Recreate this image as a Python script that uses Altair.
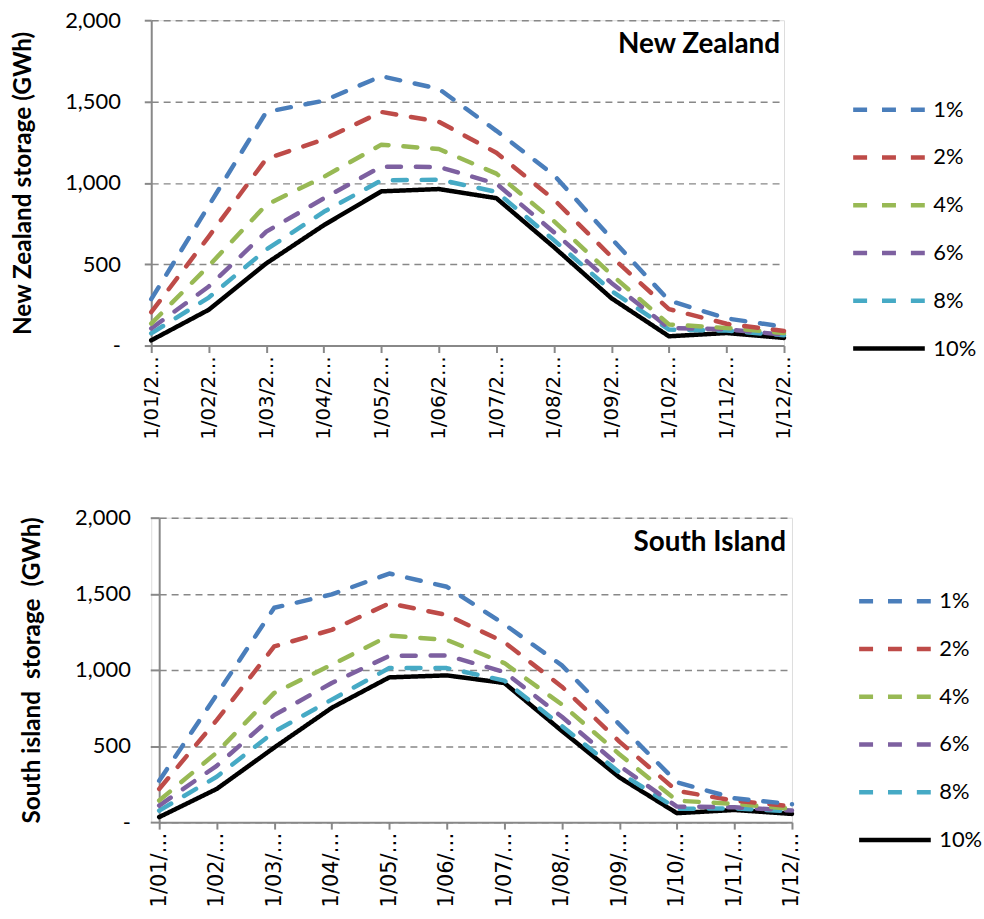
import altair as alt
import pandas as pd

months = ["1/01/2…", "1/02/2…", "1/03/2…", "1/04/2…", "1/05/2…", "1/06/2…",
          "1/07/2…", "1/08/2…", "1/09/2…", "1/10/2…", "1/11/2…", "1/12/2…"]
series = ["1%", "2%", "4%", "6%", "8%", "10%"]

# New Zealand storage (GWh)
nz_1 = [285, 860, 1436, 1505, 1656, 1578, 1320, 1048, 658, 277, 167, 115]
nz_2 = [205, 670, 1148, 1267, 1436, 1376, 1185, 898, 546, 224, 134, 90]
nz_4 = [135, 490, 865, 1037, 1235, 1208, 1057, 765, 436, 130, 108, 77]
nz_6 = [105, 363, 700, 905, 1100, 1098, 995, 697, 385, 108, 100, 67]
nz_8 = [75, 295, 590, 822, 1015, 1020, 945, 648, 336, 98, 92, 63]
nz_10 = [32, 220, 505, 740, 948, 962, 906, 605, 291, 57, 77, 47]

# South Island storage (GWh)
si_1 = [272, 838, 1408, 1496, 1633, 1546, 1300, 1030, 642, 262, 157, 118]
si_2 = [218, 670, 1154, 1263, 1437, 1361, 1182, 890, 529, 205, 141, 104]
si_4 = [142, 457, 849, 1034, 1225, 1197, 1045, 773, 446, 141, 120, 87]
si_6 = [109, 370, 703, 914, 1092, 1095, 986, 692, 370, 102, 98, 76]
si_8 = [76, 298, 594, 805, 1012, 1012, 930, 631, 327, 87, 91, 70]
si_10 = [33, 218, 490, 751, 951, 964, 914, 599, 294, 59, 80, 54]

colors = ["#4A7EBB", "#BE4B48", "#98B954", "#7D60A0", "#46AAC5", "#000000"]
dashes = [[14, 15], [14, 15], [14, 15], [14, 15], [14, 15], [1, 0]]
widths = [4.5, 4.5, 4.5, 4.5, 4.5, 5.5]

GREY = "#888888"


def make_df(lists):
    rows = []
    # draw the 10% line first so dashed lines sit on top of it
    for s, vals in reversed(list(zip(series, lists))):
        for m, v in zip(months, vals):
            rows.append({"month": m, "series": s, "value": v})
    return pd.DataFrame(rows)


def legend(lx, ly):
    return alt.Legend(title=None, orient="none", legendX=lx, legendY=ly,
                      symbolType="stroke", symbolSize=5184, symbolStrokeWidth=3.5,
                      labelFont="Lato", labelFontSize=22, labelColor="black",
                      labelOffset=6, clipHeight=48, rowPadding=0, padding=0)


def panel(lists, ytitle, name, width, height, x_range, y_offset, tick_size,
          label_pad, title_x, legend_x, legend_y, x_label_expr, x_label_size,
          text_x, text_y):
    df = make_df(lists)
    base = alt.Chart(df).mark_line(strokeCap="round", strokeJoin="round").encode(
        x=alt.X("month:N", sort=months,
                scale=alt.Scale(type="point", padding=0, range=x_range),
                axis=alt.Axis(title=None, labelAngle=270, labelFont="DejaVu Sans",
                              labelFontSize=x_label_size, labelColor="black",
                              labelPadding=3, labelExpr=x_label_expr,
                              domainColor=GREY, domainWidth=2,
                              tickColor=GREY, tickWidth=2, tickSize=7,
                              grid=False)),
        y=alt.Y("value:Q",
                scale=alt.Scale(domain=[0, 2000], nice=False),
                axis=alt.Axis(values=[0, 500, 1000, 1500, 2000],
                              labelExpr="datum.value == 0 ? '-' : format(datum.value, ',')",
                              labelFont="Lato", labelFontSize=22, labelColor="black",
                              labelPadding=label_pad, offset=y_offset,
                              grid=True, gridDash=[7, 5], gridColor=GREY, gridWidth=1.5,
                              domainColor=GREY, domainWidth=2,
                              tickColor=GREY, tickWidth=2, tickSize=tick_size,
                              title=ytitle, titleFont="Lato", titleFontSize=24.5,
                              titleFontWeight="bold", titleColor="black",
                              titleAngle=270, titleBaseline="middle",
                              titleX=title_x, titleY=height / 2)),
        color=alt.Color("series:N", sort=series,
                        scale=alt.Scale(domain=series, range=colors),
                        legend=legend(legend_x, legend_y)),
        strokeDash=alt.StrokeDash("series:N", sort=series,
                                  scale=alt.Scale(domain=series, range=dashes),
                                  legend=legend(legend_x, legend_y)),
        strokeWidth=alt.StrokeWidth("series:N", sort=series,
                                    scale=alt.Scale(domain=series, range=widths),
                                    legend=None),
    )
    label = alt.Chart(pd.DataFrame({"name": [name]})).mark_text(
        align="right", baseline="alphabetic", font="Lato", fontSize=28,
        fontWeight="bold", color="black"
    ).encode(x=alt.value(text_x), y=alt.value(text_y), text="name:N")
    return alt.layer(base, label).properties(width=width, height=height)


top = panel([nz_1, nz_2, nz_4, nz_6, nz_8, nz_10], "New Zealand storage (GWh)",
            "New Zealand", 636, 327, [0, 636], 0, 7, 24, -128, 703, 66,
            "datum.label", 20, 632, 33)
bottom = panel([si_1, si_2, si_4, si_6, si_8, si_10],
               "South island\u00a0 storage\u00a0 (GWh)",
               "South Island", 644, 306, [8, 644], -8, 9, 20, -127, 709, 60,
               "replace(datum.label, '2…', '…')", 21, 638, 33)

chart = alt.vconcat(top, bottom, spacing=66).resolve_scale(
    color="independent", strokeDash="independent", strokeWidth="independent"
).resolve_legend(color="independent", strokeDash="independent").configure_view(
    stroke=None
).configure(background="white", padding={"left": 10, "top": 6, "right": 0, "bottom": 0})

chart.save("out.html", embed_options={"renderer": "svg", "actions": False})
